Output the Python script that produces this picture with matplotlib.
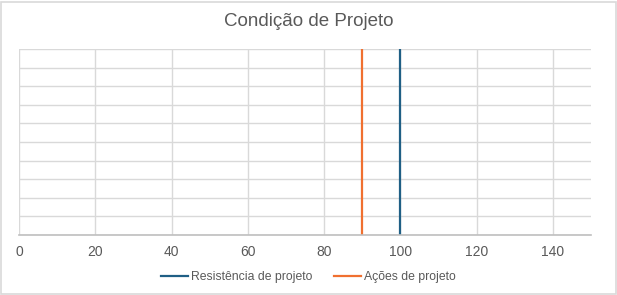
import matplotlib.pyplot as plt
from matplotlib.patches import Rectangle

plt.rcParams['font.family'] = ['Liberation Sans', 'DejaVu Sans']

# vertical lines drawn as two-point series (x constant, y from bottom to top)
resistencia_x = [100, 100]
resistencia_y = [0, 10]
acoes_x = [90, 90]
acoes_y = [0, 10]

x_ticks = [0, 20, 40, 60, 80, 100, 120, 140]

fig = plt.figure(figsize=(6.17, 2.95), dpi=100)
ax = fig.add_axes([19 / 617, 1 - 235 / 295, 572 / 617, 186 / 295])

grid_col = '#d9d9d9'
text_col = '#595959'

ax.plot(resistencia_x, resistencia_y, color='#1f5f85', lw=1.6, label='Resistência de projeto')
ax.plot(acoes_x, acoes_y, color='#f07030', lw=1.6, label='Ações de projeto')

ax.set_xlim(0, 150)
ax.set_ylim(0, 10)
ax.set_xticks(x_ticks)
ax.set_yticks(range(0, 11))
ax.grid(True, color=grid_col, lw=1)
ax.set_axisbelow(True)
ax.tick_params(axis='x', length=0, pad=7, labelsize=10, labelcolor=text_col)
ax.tick_params(axis='y', length=0, labelleft=False)
for s in ['top', 'right', 'left']:
    ax.spines[s].set_visible(False)
ax.spines['bottom'].set_color('#bfbfbf')
ax.spines['bottom'].set_linewidth(1.2)

fig.text(0.5, 1 - 22 / 295, 'Condição de Projeto', ha='center', va='center',
         fontsize=13.5, color=text_col)

leg = fig.legend(loc='center', bbox_to_anchor=(0.5, 1 - 277 / 295), ncol=2,
                 frameon=False, fontsize=8.8, handlelength=2.2, handletextpad=0.25,
                 columnspacing=1.8)
for t in leg.get_texts():
    t.set_color(text_col)

fig.patches.append(Rectangle((1 / 617, 1 / 295), 615 / 617, 292 / 295,
                             transform=fig.transFigure, fill=False,
                             edgecolor='#d9d9d9', lw=1.2))

fig.savefig('out.png', dpi=100)
